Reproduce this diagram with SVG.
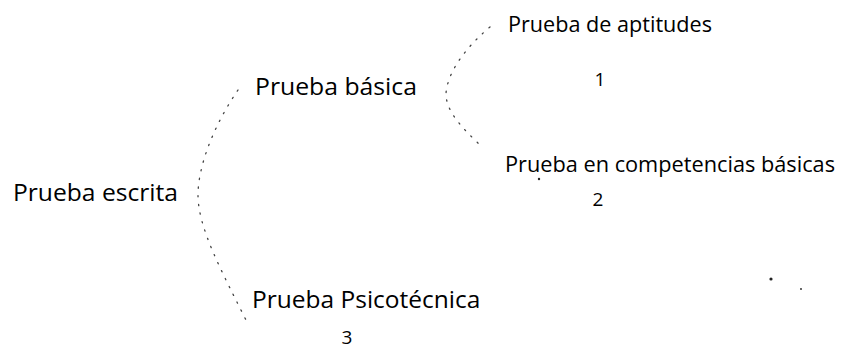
<svg xmlns="http://www.w3.org/2000/svg" width="846" height="351" viewBox="0 0 846 351">
<style>
.t{font-family:"Open Sans","Liberation Sans",Arial,sans-serif;fill:#000}
.big{font-size:24.5px}
.sm{font-size:21.5px}
.num{font-size:19px}
.c{fill:none;stroke:#444;stroke-width:1.3;stroke-dasharray:1.3 7.5;stroke-linecap:round}
.speck{fill:#222}
</style>
<rect width="846" height="351" fill="#fff"/>
<g id="connectors">
<path class="c" d="M238,90 C212,128 198,168 198,195 C198,228 222,272 246,320"/>
<path class="c" d="M490,27 C460,52 446,78 446,95 C447,115 468,133 483,148"/>
</g>
<g id="node-escrita"><text class="t big" x="13" y="201" textLength="165" lengthAdjust="spacingAndGlyphs">Prueba escrita</text></g>
<g id="node-basica"><text class="t big" x="255" y="95" textLength="162" lengthAdjust="spacingAndGlyphs">Prueba básica</text></g>
<g id="node-aptitudes"><text class="t sm" x="508" y="32" textLength="204" lengthAdjust="spacingAndGlyphs">Prueba de aptitudes</text><text class="t num" x="600" y="86" text-anchor="middle">1</text></g>
<g id="node-competencias"><text class="t sm" x="505" y="172" textLength="330" lengthAdjust="spacingAndGlyphs">Prueba en competencias básicas</text><text class="t num" x="598" y="206" text-anchor="middle">2</text></g>
<g id="node-psicotecnica"><text class="t big" x="252" y="308">Prueba Psicotécnica</text><text class="t num" x="347" y="344" text-anchor="middle">3</text></g>
<circle class="speck" cx="539" cy="179" r="1.2"/>
<circle class="speck" cx="771" cy="279" r="1.6"/>
<circle class="speck" cx="801" cy="289" r="0.9"/>
</svg>
